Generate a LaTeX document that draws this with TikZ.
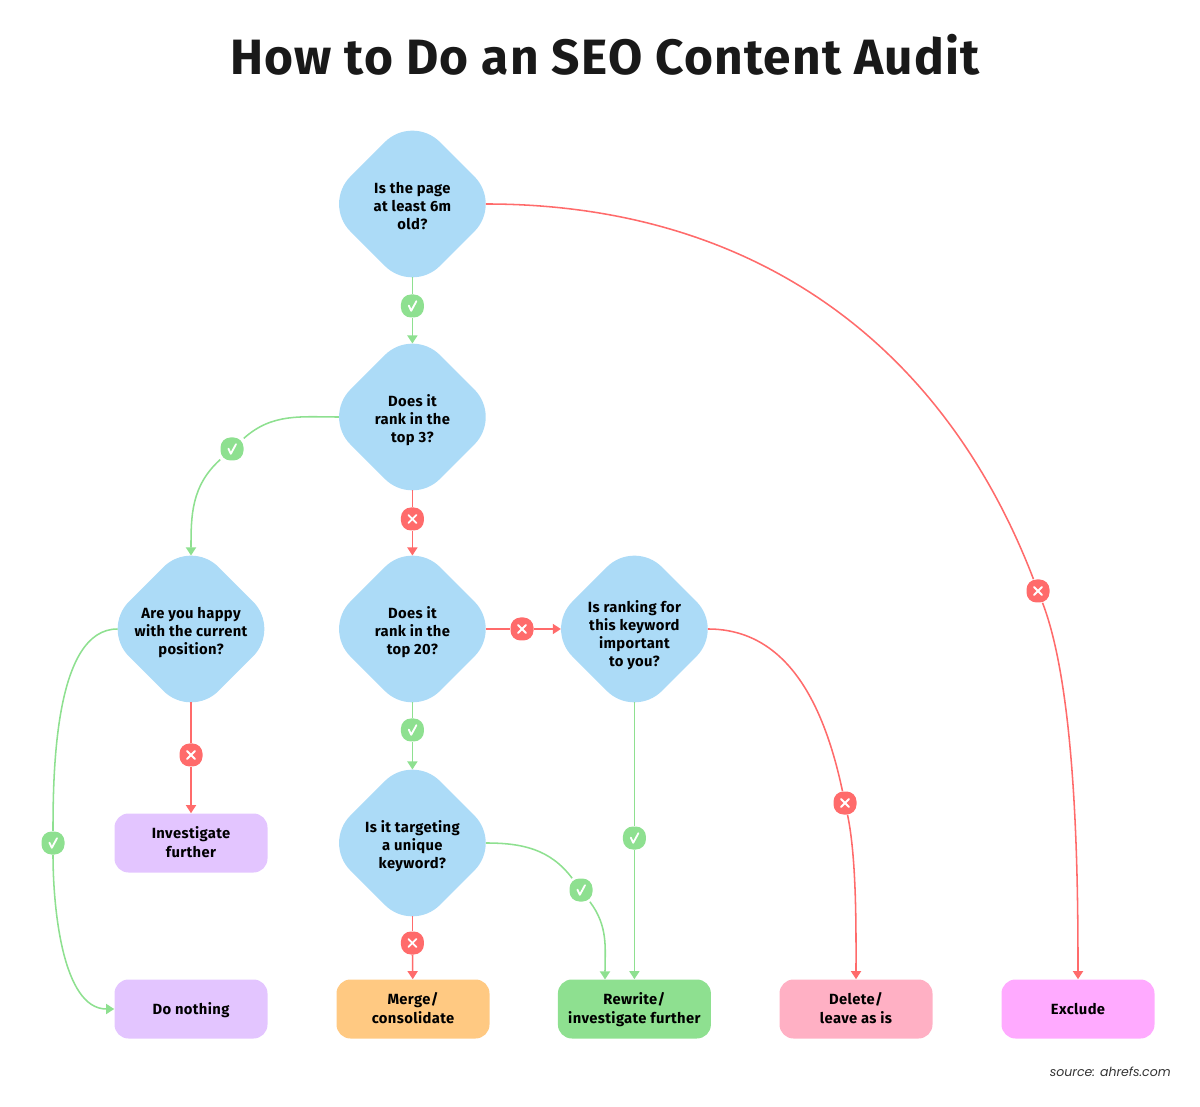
\documentclass[tikz,border=0pt]{standalone}
\usepackage{fontspec}
\setmainfont{Fira Sans}[LetterSpace=2.5]
\newfontfamily\srcfont{Poppins}
\usetikzlibrary{arrows.meta, shapes.geometric}
\definecolor{qblue}{HTML}{ACDBF7}
\definecolor{yesgreen}{HTML}{8EE090}
\definecolor{nored}{HTML}{FF6B6B}
\definecolor{boxpurple}{HTML}{E3C5FF}
\definecolor{boxorange}{HTML}{FFC982}
\definecolor{boxpink}{HTML}{FFB0C4}
\definecolor{boxmagenta}{HTML}{FFAAFF}
\tikzset{
  qnode/.style={diamond, aspect=1, fill=qblue, rounded corners=0.975cm, minimum width=4.24cm, minimum height=4.24cm, inner sep=0pt, outer sep=-0.283cm, align=center, font=\fontsize{10.5}{12.8}\selectfont\bfseries, text height=36.3pt, text depth=-18.3pt},
  endbox/.style={rounded corners=0.35cm, minimum width=3.825cm, minimum height=1.475cm, inner sep=0pt, align=center, font=\fontsize{10.5}{13.4}\selectfont\bfseries, text height=21.2pt, text depth=0.8pt},
  yesline/.style={draw=yesgreen, line width=1.1pt},
  noline/.style={draw=nored, line width=1.1pt},
  yesmark/.style={fill=yesgreen, rounded corners=0.25cm, minimum size=0.575cm, inner sep=0pt,
    path picture={\draw[white, sharp corners, line width=1.3pt, line cap=round, line join=round] ([shift={(-0.09,0.01)}]path picture bounding box.center) -- ++(0.06,-0.13) -- ++(0.13,0.24);}},
  nomark/.style={fill=nored, rounded corners=0.25cm, minimum size=0.575cm, inner sep=0pt,
    path picture={\draw[white, sharp corners, line width=1.3pt, line cap=round] ([shift={(-0.1,-0.1)}]path picture bounding box.center) -- ++(0.2,0.2) ++(-0.2,0) -- ++(0.2,-0.2);}},
}
\begin{document}
\begin{tikzpicture}[>={Triangle[length=5.8pt, width=7.2pt]}]
\useasboundingbox (0,0) rectangle (30,27.65);
% Title and source
\node[font=\fontsize{35.3}{40}\selectfont\bfseries, text=black!90] (title) at (15.125,26.27) {How to Do an SEO Content Audit};
\node[anchor=east, inner sep=0pt, font=\fontsize{8.9}{11}\selectfont\srcfont\itshape, text=black!80] (source) at (29.275,0.85) {source: ahrefs.com};
% Questions
\node[qnode] (page) at (10.31,22.55) {Is the page\\at least 6m\\old?};
\node[qnode] (top3) at (10.31,17.225) {Does it\\rank in the\\top 3?};
\node[qnode] (top20) at (10.31,11.925) {Does it\\rank in the\\top 20?};
\node[qnode, text height=54pt, text depth=-33.6pt] (important) at (15.86,11.925) {Is ranking for\\this keyword\\important\\to you?};
\node[qnode] (happy) at (4.775,11.925) {Are you happy\\with the current\\position?};
\node[qnode] (unique) at (10.31,6.575) {Is it targeting\\a unique\\keyword?};
% Outcomes
\node[endbox, fill=boxpurple] (investigate) at (4.775,6.575) {Investigate\\further};
\node[endbox, fill=boxpurple, text height=8.8pt] (nothing) at (4.775,2.425) {Do nothing};
\node[endbox, fill=boxorange] (merge) at (10.325,2.425) {Merge/\\consolidate};
\node[endbox, fill=yesgreen] (rewrite) at (15.86,2.425) {Rewrite/\\investigate further};
\node[endbox, fill=boxpink] (delete) at (21.4,2.425) {Delete/\\leave as is};
\node[endbox, fill=boxmagenta, text height=8.8pt] (exclude) at (26.95,2.425) {Exclude};
\coordinate (rewriteleft) at (15.125,3.1625);
% Answers
\node[yesmark] (yes1) at (10.31,20.0) {};
\node[yesmark] (yes2) at (5.8,16.425) {};
\node[nomark] (no3) at (10.31,14.675) {};
\node[nomark] (no4) at (13.05,11.925) {};
\node[yesmark] (yes5) at (10.31,9.4) {};
\node[nomark] (no6) at (4.775,8.775) {};
\node[yesmark] (yes7) at (1.325,6.575) {};
\node[yesmark] (yes8) at (15.86,6.7) {};
\node[yesmark] (yes9) at (14.525,5.4) {};
\node[nomark] (no10) at (10.31,4.075) {};
\node[nomark] (no11) at (21.125,7.575) {};
\node[nomark] (no12) at (25.95,12.875) {};
% Yes connectors
\draw[yesline] (page) -- (yes1);
\draw[yesline, ->] (yes1) -- (top3);
\draw[yesline] (top3) to[out=180, in=42] (yes2);
\draw[yesline, ->] (yes2) to[out=222, in=90] (happy);
\draw[yesline] (top20) -- (yes5);
\draw[yesline, ->] (yes5) -- (unique);
\draw[yesline] (happy) to[out=180, in=90, looseness=0.75] (yes7);
\draw[yesline, ->] (yes7) to[out=-90, in=180, looseness=0.8] (nothing);
\draw[yesline] (important) -- (yes8);
\draw[yesline, ->] (yes8) -- (rewrite);
\draw[yesline] (unique) to[out=0, in=127] (yes9);
\draw[yesline, ->] (yes9) to[out=-53, in=90] (rewriteleft);
% No connectors
\draw[noline] (top3) -- (no3);
\draw[noline, ->] (no3) -- (top20);
\draw[noline] (top20) -- (no4);
\draw[noline, ->] (no4) -- (important);
\draw[noline] (happy) -- (no6);
\draw[noline, ->] (no6) -- (investigate);
\draw[noline] (unique) -- (no10);
\draw[noline, ->] (no10) -- (merge);
\draw[noline] (important) to[out=0, in=102] (no11);
\draw[noline, ->] (no11) to[out=-78, in=90, looseness=0.7] (delete);
\draw[noline] (page) to[out=0, in=111] (no12);
\draw[noline, ->] (no12) to[out=-69, in=90, looseness=0.65] (exclude);
\end{tikzpicture}
\end{document}
